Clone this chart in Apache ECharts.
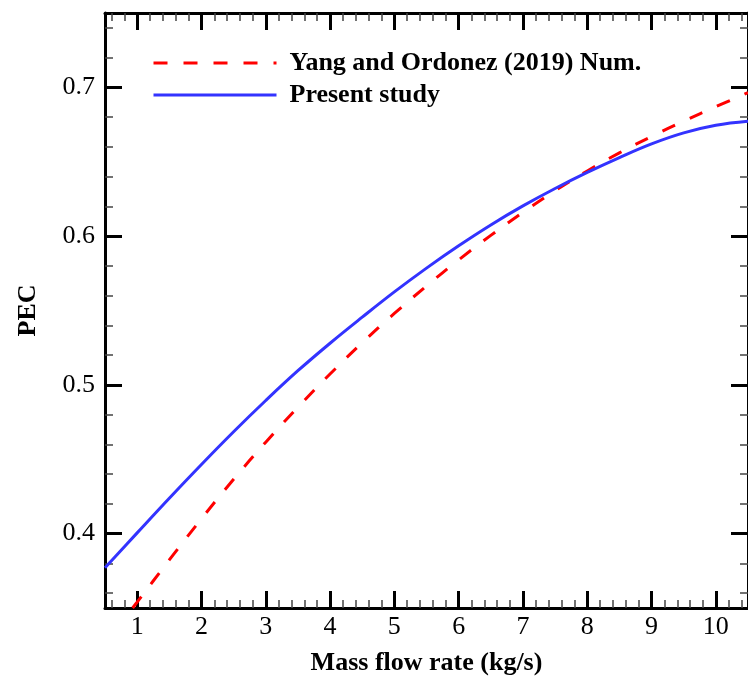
<!DOCTYPE html>
<html>
<head>
<meta charset="utf-8">
<script src="https://cdn.jsdelivr.net/npm/echarts@6/dist/echarts.min.js"></script>
<style>
html,body{margin:0;padding:0;background:#fff;}
#chart{width:748px;height:682px;}
</style>
</head>
<body>
<div id="chart"></div>
<script>
// ---- data ----
const seriesNames = ['Yang and Ordonez (2019) Num.', 'Present study'];
const yangX = [0.93, 1.0, 1.5, 2.0, 2.5, 3.0, 3.5, 4.0, 4.5, 5.0, 5.5, 6.0, 6.5, 7.0, 7.5, 8.0, 8.5, 9.0, 9.5, 10.0, 10.5];
const yangY = [0.350, 0.354, 0.3823, 0.410, 0.4365, 0.4615, 0.485, 0.5073, 0.5283, 0.548, 0.5665, 0.584, 0.6005, 0.616, 0.6305, 0.6438, 0.656, 0.667, 0.6773, 0.687, 0.6965];
const presentX = [0.5, 1.0, 1.5, 2.0, 2.5, 3.0, 3.5, 4.0, 4.5, 5.0, 5.5, 6.0, 6.5, 7.0, 7.5, 8.0, 8.5, 9.0, 9.5, 10.0, 10.5];
const presentY = [0.377, 0.4005, 0.4238, 0.4465, 0.4685, 0.4895, 0.5095, 0.528, 0.5455, 0.5625, 0.5785, 0.5935, 0.6075, 0.6203, 0.632, 0.6428, 0.6528, 0.662, 0.6694, 0.6745, 0.6772];
const xMajorTicks = [1, 2, 3, 4, 5, 6, 7, 8, 9, 10];
const yMajorTicks = [0.4, 0.5, 0.6, 0.7];
const xRange = [0.5, 10.5];
const yRange = [0.35, 0.75];
const xMinorStep = 0.2;
const yMinorStep = 0.02;
const xTitle = 'Mass flow rate (kg/s)';
const yTitle = 'PEC';

function minorTicks(range, step, majors) {
  const out = [];
  const start = Math.ceil(range[0] / step - 1e-9);
  const end = Math.floor(range[1] / step + 1e-9);
  for (let i = start; i <= end; i++) {
    const v = +(i * step).toFixed(6);
    if (majors.some(m => Math.abs(m - v) < 1e-6)) continue;
    if (v <= range[0] + 1e-9 || v >= range[1] - 1e-9) continue;
    out.push(v);
  }
  return out;
}
const xMinor = minorTicks(xRange, xMinorStep, xMajorTicks);
const yMinor = minorTicks(yRange, yMinorStep, yMajorTicks);

const FONT = "'Liberation Serif', 'Times New Roman', serif";

function xAx(pos, ticks, len, width, color, showLine, showLabel, extra) {
  return Object.assign({
    type: 'value', gridIndex: 0, position: pos, min: xRange[0], max: xRange[1],
    axisLine: { show: showLine, onZero: false, lineStyle: { color: '#000', width: 3 } },
    axisTick: { show: true, inside: true, length: len, customValues: ticks, lineStyle: { color: color, width: width } },
    axisLabel: { show: showLabel, customValues: xMajorTicks, margin: 6, color: '#000', fontFamily: FONT, fontSize: 26 },
    splitLine: { show: false }, minorTick: { show: false }
  }, extra || {});
}
function yAx(pos, ticks, len, width, color, showLine, showLabel, extra) {
  return Object.assign({
    type: 'value', gridIndex: 0, position: pos, min: yRange[0], max: yRange[1],
    axisLine: { show: showLine, onZero: false, lineStyle: { color: '#000', width: 3 } },
    axisTick: { show: true, inside: true, length: len, customValues: ticks, lineStyle: { color: color, width: width } },
    axisLabel: { show: showLabel, customValues: yMajorTicks, margin: 10, color: '#000', fontFamily: FONT, fontSize: 26,
                 formatter: v => v.toFixed(1) },
    splitLine: { show: false }, minorTick: { show: false }
  }, extra || {});
}

const chart = echarts.init(document.getElementById('chart'), null, { renderer: 'canvas' });
chart.setOption({
  backgroundColor: '#fff',
  animation: false,
  grid: { left: 105, right: -7, top: 13, bottom: 74, containLabel: false },
  legend: {
    orient: 'vertical', left: 147, top: 45,
    itemWidth: 123, itemHeight: 14, itemGap: 6,
    data: seriesNames,
    lineStyle: { width: 3 },
    textStyle: { fontFamily: FONT, fontSize: 26, fontWeight: 'bold', color: '#000', lineHeight: 26, padding: [0, 0, 0, 8] }
  },
  xAxis: [
    xAx('bottom', xMajorTicks, 17, 3, '#000', true, true, {
      name: xTitle, nameLocation: 'middle', nameGap: 42,
      nameTextStyle: { fontFamily: FONT, fontSize: 26, fontWeight: 'bold', color: '#000' }
    }),
    xAx('top', xMajorTicks, 17, 3, '#000', true, false),
    xAx('bottom', xMinor, 8, 1.5, '#444', false, false),
    xAx('top', xMinor, 8, 1.5, '#444', false, false)
  ],
  yAxis: [
    yAx('left', yMajorTicks, 17, 3, '#000', true, true, {
      name: yTitle, nameLocation: 'middle', nameGap: 64,
      nameTextStyle: { fontFamily: FONT, fontSize: 26, fontWeight: 'bold', color: '#000' }
    }),
    yAx('right', yMajorTicks, 17, 3, '#000', true, false),
    yAx('left', yMinor, 8, 1.5, '#444', false, false),
    yAx('right', yMinor, 8, 1.5, '#444', false, false)
  ],
  series: [
    {
      name: seriesNames[0], type: 'line', xAxisIndex: 0, yAxisIndex: 0,
      data: yangX.map((x, i) => [x, yangY[i]]),
      smooth: 0.4, showSymbol: false, symbol: 'none', clip: true,
      lineStyle: { color: '#ff0000', width: 3, type: [14, 16] },
      itemStyle: { color: 'rgba(0,0,0,0)', borderColor: 'rgba(0,0,0,0)' }
    },
    {
      name: seriesNames[1], type: 'line', xAxisIndex: 0, yAxisIndex: 0,
      data: presentX.map((x, i) => [x, presentY[i]]),
      smooth: 0.4, showSymbol: false, symbol: 'none', clip: true,
      lineStyle: { color: '#3333ff', width: 3 },
      itemStyle: { color: 'rgba(0,0,0,0)', borderColor: 'rgba(0,0,0,0)' }
    }
  ]
});
</script>
</body>
</html>
